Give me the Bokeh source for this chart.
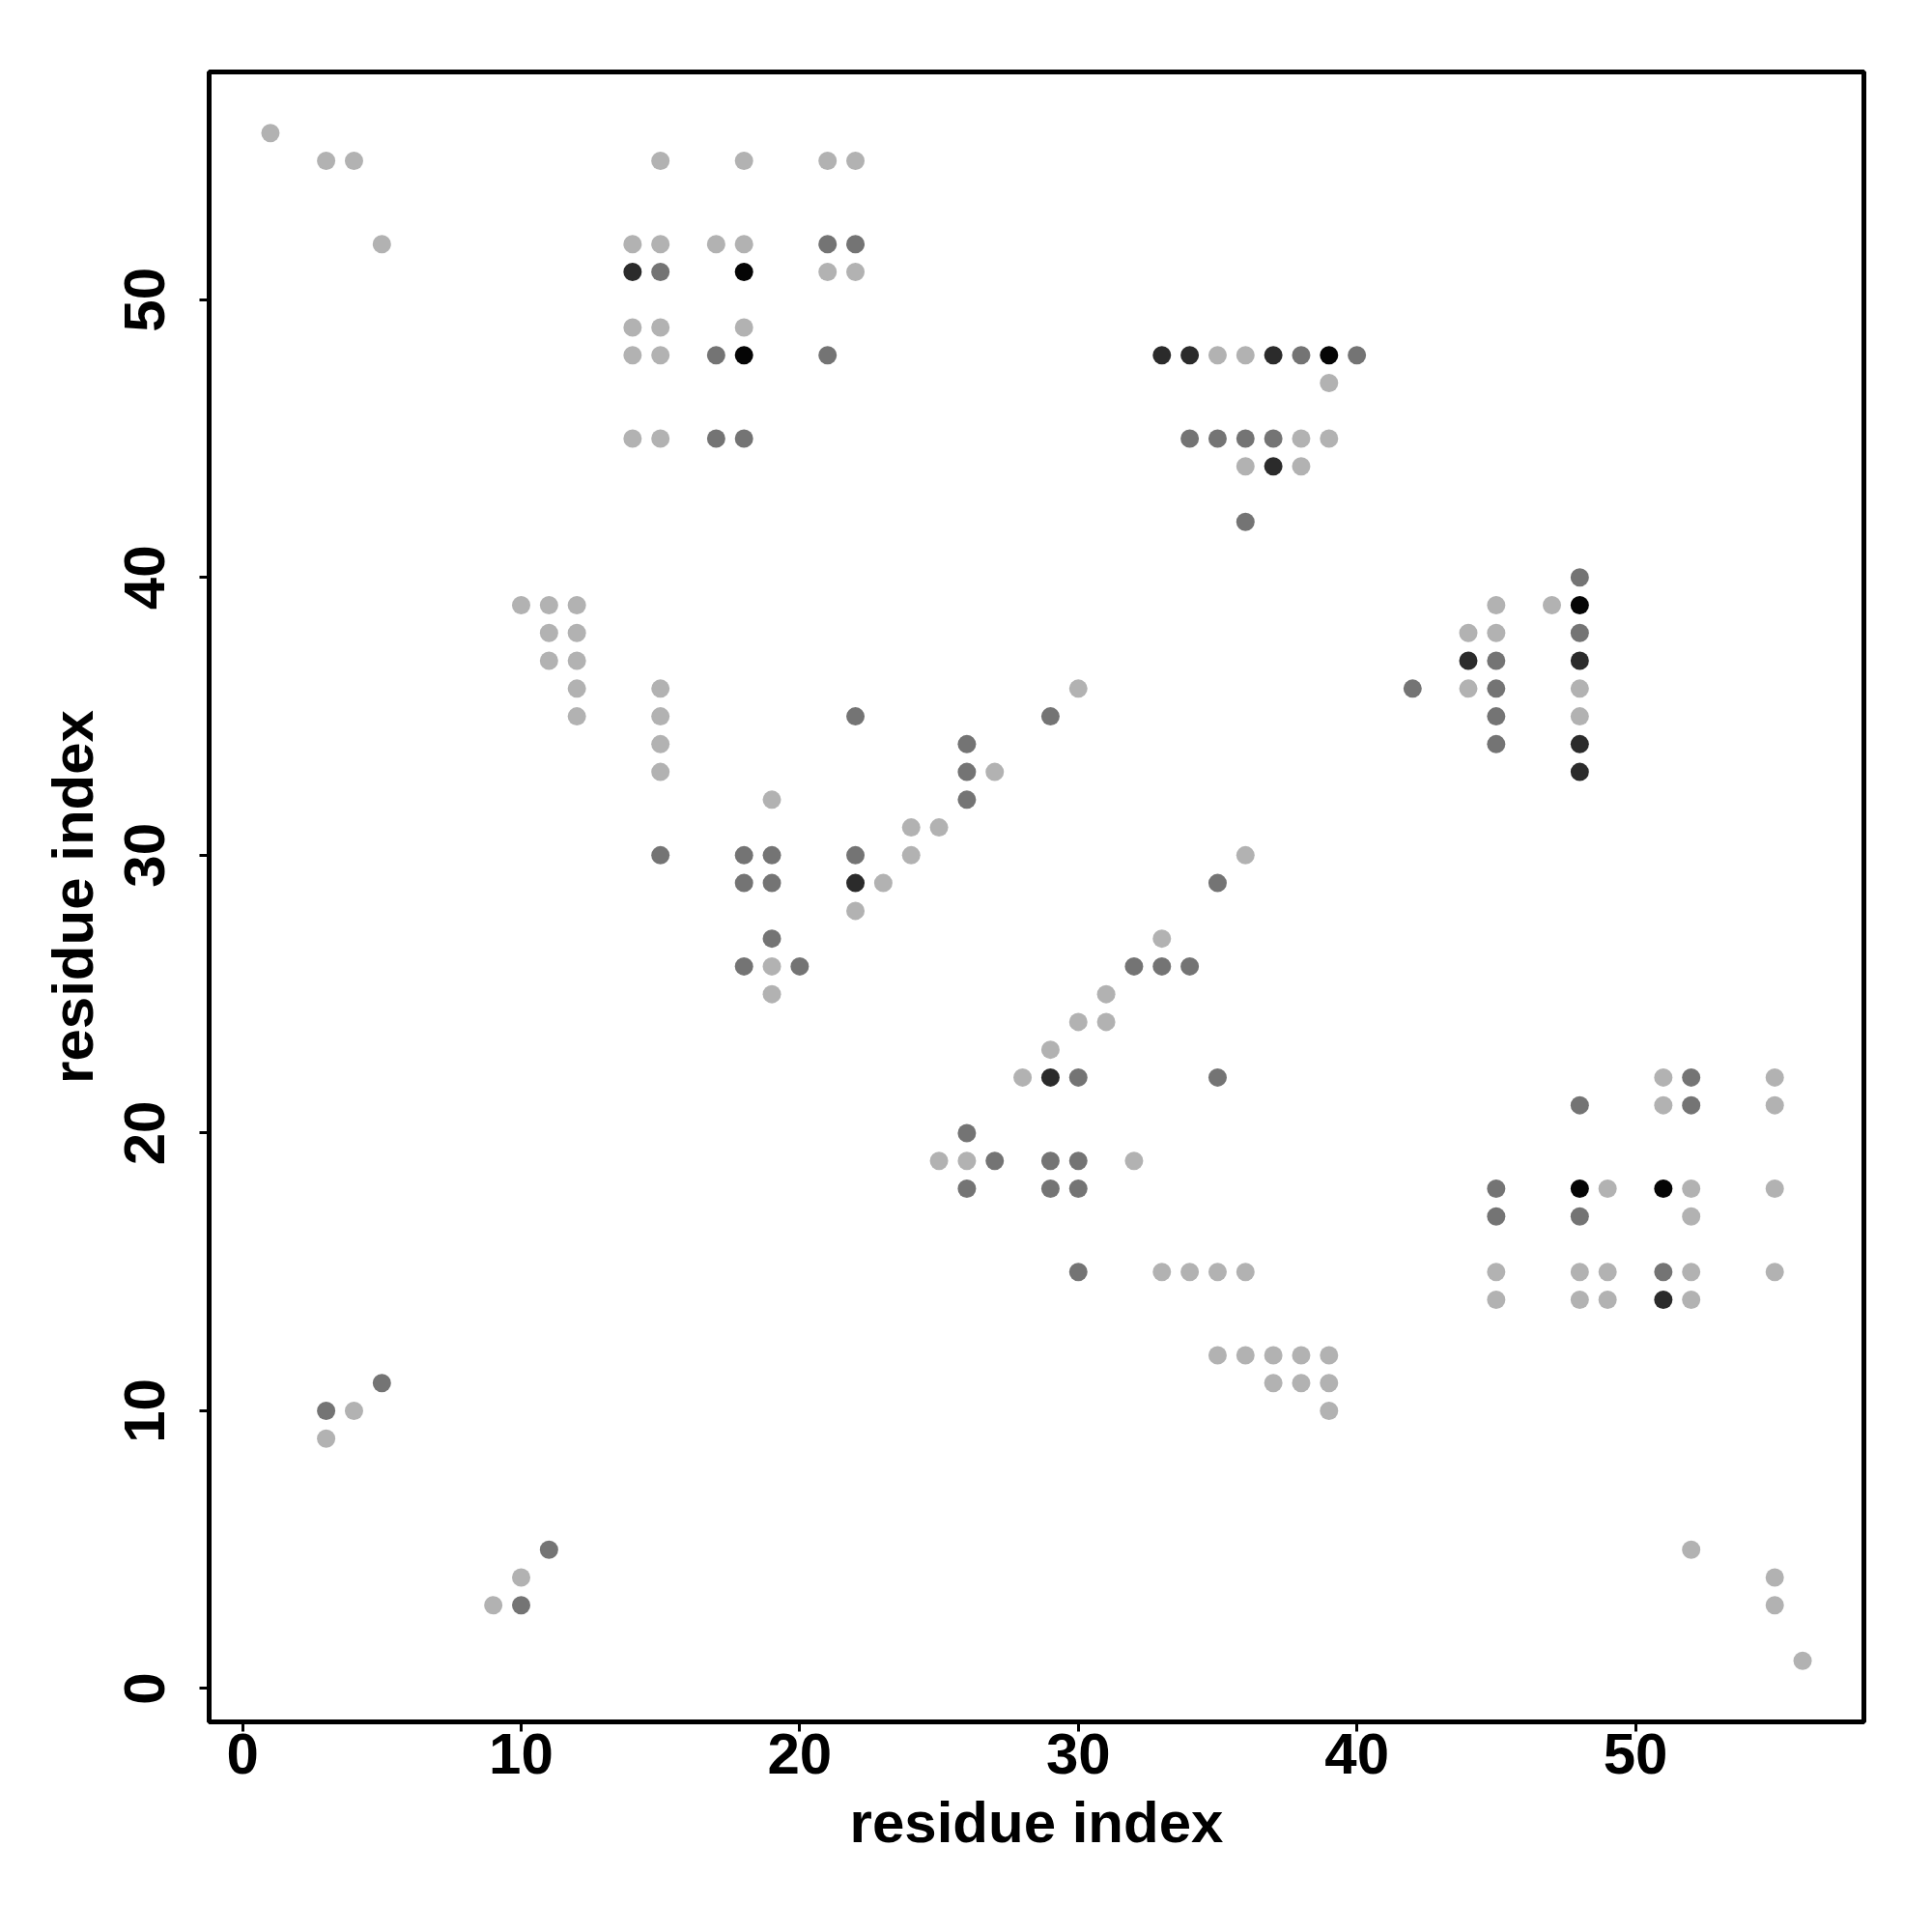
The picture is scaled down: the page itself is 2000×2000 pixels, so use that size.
from bokeh.plotting import figure
from bokeh.models import Range1d, FixedTicker, ColumnDataSource
from bokeh.embed import file_html
from bokeh.resources import INLINE

# Contact map (symmetric): pairs (i, j) with i < j and a contact strength level
# levels: 0 = weak (light gray), 1 = medium, 2 = strong (dark), 3 = strongest (black)
pair_i = [1, 3, 4, 5,
          15, 18, 21, 22,
          14, 15, 17, 18, 21, 22,
          14, 15, 18, 21, 22,
          14, 15, 18,
          14, 15, 17, 18, 21,
          14, 15, 17, 18,
          33, 34, 35, 36, 37, 38, 39, 40,
          39,
          34, 35, 36, 37, 38, 39,
          36, 37, 38,
          36,
          10, 11, 12, 11, 12, 11, 12, 12, 12,
          15, 15, 15, 15, 15,
          22,
          19,
          18, 19, 22,
          18, 19, 22, 23,
          22, 19, 18, 19, 20, 19,
          24, 25, 24,
          26, 26, 27, 26,
          29, 30,
          3, 4, 3, 5]
pair_j = [56, 55, 55, 52,
          55, 55, 55, 55,
          52, 52, 52, 52, 52, 52,
          51, 51, 51, 51, 51,
          49, 49, 49,
          48, 48, 48, 48, 48,
          45, 45, 45, 45,
          48, 48, 48, 48, 48, 48, 48, 48,
          47,
          45, 45, 45, 45, 45, 45,
          44, 44, 44,
          42,
          39, 39, 39, 38, 38, 37, 37, 36, 35,
          36, 35, 34, 33, 30,
          35,
          32,
          30, 30, 30,
          29, 29, 29, 29,
          28, 27, 26, 26, 26, 25,
          31, 31, 30,
          34, 33, 33, 32,
          35, 36,
          10, 10, 9, 11]
pair_level = [0, 0, 0, 0,
              0, 0, 0, 0,
              0, 0, 0, 0, 1, 1,
              2, 1, 3, 0, 0,
              0, 0, 0,
              0, 0, 1, 3, 1,
              0, 0, 1, 1,
              2, 2, 0, 0, 2, 1, 3, 1,
              0,
              1, 1, 1, 1, 0, 0,
              0, 2, 0,
              1,
              0, 0, 0, 0, 0, 0, 0, 0, 0,
              0, 0, 0, 0, 1,
              1,
              0,
              1, 1, 1,
              1, 1, 2, 0,
              0, 1, 1, 0, 1, 0,
              0, 0, 0,
              1, 1, 0, 1,
              1, 0,
              1, 0, 0, 1]

level_colors = ["#b2b2b2", "#747474", "#2b2b2b", "#050505"]

x_ticks = [0, 10, 20, 30, 40, 50]
y_ticks = [0, 10, 20, 30, 40, 50]
x_label = "residue index"
y_label = "residue index"

# the map is symmetric: draw each contact at (i, j) and at (j, i)
xs = list(pair_i) + list(pair_j)
ys = list(pair_j) + list(pair_i)
cols = [level_colors[l] for l in pair_level] * 2
src = ColumnDataSource(data=dict(x=xs, y=ys, c=cols))

p = figure(width=1984, height=1984, output_backend="svg", toolbar_location=None,
           x_range=Range1d(-1.2, 58.2), y_range=Range1d(-1.2, 58.2),
           min_border_left=216, min_border_right=55, min_border_top=74, min_border_bottom=202)
p.background_fill_color = "white"
p.border_fill_color = "white"
p.grid.visible = False
p.outline_line_color = "black"
p.outline_line_width = 5

p.scatter(x="x", y="y", source=src, marker="circle", size=19,
          fill_color="c", line_color=None)

FONT = "Liberation Sans"
for ax, ticks, lab in ((p.xaxis[0], x_ticks, x_label), (p.yaxis[0], y_ticks, y_label)):
    ax.ticker = FixedTicker(ticks=ticks)
    ax.axis_label = lab
    ax.axis_line_color = None
    ax.major_tick_line_color = "black"
    ax.major_tick_line_width = 3
    ax.major_tick_out = 10
    ax.major_tick_in = 0
    ax.minor_tick_line_color = None
    ax.major_label_text_font = FONT
    ax.major_label_text_font_style = "bold"
    ax.major_label_text_font_size = "60px"
    ax.major_label_text_color = "black"
    ax.axis_label_text_font = FONT
    ax.axis_label_text_font_style = "bold"
    ax.axis_label_text_font_size = "60px"
    ax.axis_label_text_color = "black"

p.xaxis[0].major_label_standoff = 2
p.xaxis[0].axis_label_standoff = 14
p.yaxis[0].major_label_orientation = "vertical"
p.yaxis[0].major_label_standoff = 36
p.yaxis[0].axis_label_standoff = 18

open("out.html", "w").write(file_html(p, INLINE))
